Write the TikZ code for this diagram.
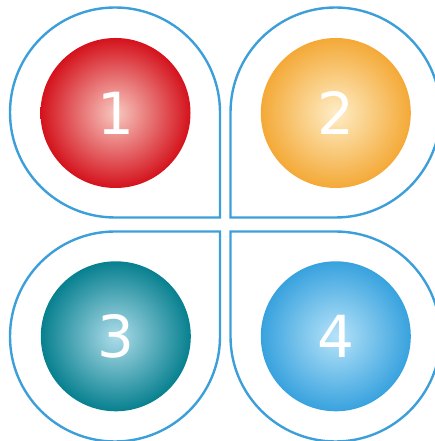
\documentclass[tikz,border=0pt]{standalone}
\usepackage{fontspec}
\setmainfont{DejaVu Sans}
\definecolor{outl}{HTML}{3D9FD9}
\definecolor{redE}{HTML}{D4121C}
\definecolor{redC}{HTML}{F8C8C0}
\definecolor{orgE}{HTML}{F4A937}
\definecolor{orgC}{HTML}{FEEDC6}
\definecolor{tealE}{HTML}{07808F}
\definecolor{tealC}{HTML}{AEDCEA}
\definecolor{bluE}{HTML}{38A2DE}
\definecolor{bluC}{HTML}{B6E3F9}
\tikzset{
  petal/.style={draw=outl, line width=2.4pt},
  ball/.style={circle, minimum size=150pt, inner sep=0pt, text=white,
    font=\fontsize{58}{58}\selectfont},
}
\begin{document}
\begin{tikzpicture}[x=1pt,y=1pt]
\useasboundingbox (0,0) rectangle (435,441);
\clip (0,0) rectangle (435,441);
% petals
\draw[petal] (220,328.5) arc[start angle=0, end angle=270, radius=105] -- (220,223.5) -- cycle;
\draw[petal] (230.5,328.5) arc[start angle=180, end angle=-90, radius=105] -- (230.5,223.5) -- cycle;
\draw[petal] (220,104.5) arc[start angle=0, end angle=-270, radius=105] -- (220,209.5) -- cycle;
\draw[petal] (230.5,104.5) arc[start angle=180, end angle=450, radius=105] -- (230.5,209.5) -- cycle;
% balls
\node[ball, inner color=redC, outer color=redE] (b1) at (115.5,328) {1};
\node[ball, inner color=orgC, outer color=orgE] (b2) at (335.8,328) {2};
\node[ball, inner color=tealC, outer color=tealE] (b3) at (115.8,104.7) {3};
\node[ball, inner color=bluC, outer color=bluE] (b4) at (335.8,104.7) {4};
\end{tikzpicture}
\end{document}
